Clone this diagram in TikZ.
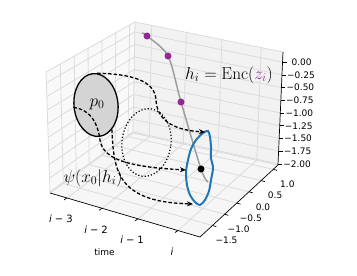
\documentclass[tikz,border=0pt]{standalone}
\usepackage{fontspec}
\newfontfamily\tickfont{DejaVu Sans}
\usetikzlibrary{calc,shapes.geometric,arrows.meta}

\definecolor{paneleft}{gray}{0.975}
\definecolor{paneback}{gray}{0.95}
\definecolor{panefloor}{gray}{0.9625}
\definecolor{gridgray}{gray}{0.86}
\definecolor{curvegray}{gray}{0.62}
\definecolor{loopblue}{HTML}{1F77B4}
\definecolor{zpurple}{RGB}{150,40,150}
\definecolor{p0fill}{gray}{0.83}

\newcommand{\stepname}[1]{\textit{i}\hspace{3pt}−\hspace{3pt}#1}

\tikzstyle{gridline} = [line width=0.8pt, draw=gridgray]
\tikzstyle{axisline} = [line width=0.7pt, draw=black]
\tikzstyle{ticklabel} = [font=\tickfont\fontsize{9}{11}\selectfont, inner sep=0pt]
\tikzstyle{steplabel} = [font=\tickfont\fontsize{10}{12}\selectfont, inner sep=0pt]
\tikzstyle{mathlabel} = [font=\fontsize{17.28}{20}\selectfont, inner sep=0pt]
\tikzstyle{flow} = [line width=1.3pt, dash pattern=on 3.5pt off 2pt, -{Stealth[length=6pt,width=5pt]}]
\tikzstyle{density} = [ellipse, draw=black, line width=1.3pt, fill=p0fill, minimum width=44pt, minimum height=63pt, inner sep=0pt, rotate=6]
\tikzstyle{proposal} = [ellipse, draw=black, line width=1.2pt, dotted, minimum width=49pt, minimum height=68pt, inner sep=0pt, rotate=-7]
\tikzstyle{trajectory} = [line width=1.5pt, draw=curvegray]
\tikzstyle{posterior} = [line width=2pt, draw=loopblue]
\tikzstyle{statedot} = [circle, fill=zpurple, minimum size=7pt, inner sep=0pt]
\tikzstyle{currentdot} = [circle, fill=black, minimum size=7pt, inner sep=0pt]

\begin{document}
\begin{tikzpicture}[x=1pt, y=-1pt]
			\useasboundingbox (0,0) rectangle (357,276);
			
			% corners of the axes box
			\coordinate (A) at (50,193);
			\coordinate (B) at (200,237);
			\coordinate (C) at (278,165);
			\coordinate (D) at (133,133);
			\coordinate (At) at (46,72);
			\coordinate (Dt) at (135,22);
			\coordinate (Ct) at (283,52);
			
			% panes
			\fill[paneleft] (A) -- (D) -- (Dt) -- (At) -- cycle;
			\fill[paneback] (D) -- (C) -- (Ct) -- (Dt) -- cycle;
			\fill[panefloor] (A) -- (B) -- (C) -- (D) -- cycle;
			\draw[gridline] (A) -- (At) -- (Dt) -- (Ct);
			\draw[gridline] (A) -- (D) -- (C);
			\draw[gridline] (D) -- (Dt);
			
			% grid
			\foreach \u in {0.113,0.347,0.587,0.853} {
				\draw[gridline] ($(A)!\u!(B)$) -- ($(D)!\u!(C)$);
				\draw[gridline] ($(D)!\u!(C)$) -- ($(Dt)!\u!(Ct)$);
			}
			\foreach \v in {0.16,0.316,0.472,0.628,0.784,0.94} {
				\draw[gridline] ($(A)!\v!(D)$) -- ($(B)!\v!(C)$);
				\draw[gridline] ($(A)!\v!(D)$) -- ($(At)!\v!(Dt)$);
			}
			\foreach \w in {0.01,0.1225,0.235,0.3475,0.46,0.5725,0.685,0.7975,0.91} {
				\draw[gridline] ($(A)!\w!(At)$) -- ($(D)!\w!(Dt)$);
				\draw[gridline] ($(D)!\w!(Dt)$) -- ($(C)!\w!(Ct)$);
			}
			
			% axes, ticks and tick labels
			\draw[axisline] (A) -- (B) -- (C) -- (Ct);
			\foreach \u/\t in {0.113/\stepname{3}, 0.347/\stepname{2}, 0.587/\stepname{1}, 0.853/\textit{i}} {
				\draw[axisline] ($(A)!\u!(B)$) -- ++(-3,2);
				\node[steplabel] at ($(A)!\u!(B)+(-6,21)$) {\t};
			}
			\foreach \v/\l in {0.16/−1.5, 0.316/−1.0, 0.472/−0.5, 0.628/0.0, 0.784/0.5, 0.94/1.0} {
				\draw[axisline] ($(B)!\v!(C)$) -- ++(3.8,1.1);
				\node[ticklabel] at ($(B)!\v!(C)+(14,15)$) {\l};
			}
			\foreach \w/\l in {0.01/−2.00, 0.1225/−1.75, 0.235/−1.50, 0.3475/−1.25, 0.46/−1.00, 0.5725/−0.75, 0.685/−0.50, 0.7975/−0.25, 0.91/0.00} {
				\draw[axisline] ($(C)!\w!(Ct)$) -- ++(4,0);
				\node[ticklabel] at ($(C)!\w!(Ct)+(19,0)$) {\l};
			}
			\node (timelabel) [ticklabel] at (104.5,252) {time};
			
			% latent trajectory
			\coordinate (sA) at (147,36);
			\coordinate (sB) at (168,56);
			\coordinate (sC) at (181,102);
			\coordinate (sI) at (201,169);
			\draw[trajectory] plot[smooth] coordinates {(142,33) (sA) (sB) (sC) (sI) (208,182)};
			
			% posterior at time i
			\draw[posterior] plot[smooth cycle, tension=0.5] coordinates {(208,131) (210,137) (211,147) (211,158) (213,168) (211,180) (209,191) (205,200) (200,205) (195,202) (190,195) (187,185) (186,172) (188,160) (191,149) (196,140) (203,133)};
			
			% prior and proposal
			\node (qe) [proposal] at (146.5,142.5) {};
			\node (p0e) [density] at (96,105) {};
			\node (p0) [mathlabel] at (97,104) {$p_0$};
			
			% flows
			\coordinate (tipA) at (205,132);
			\coordinate (tipB) at (186,170);
			\coordinate (tipC) at (193,204);
			\draw[flow] (p0e.82) .. controls (130,74) and (155,80) .. (156,100) .. controls (157,118) and (170,130) .. (tipA);
			\draw[flow] (p0e.west) .. controls (92,110) and (98,125) .. (100,140) .. controls (103,160) and (130,167) .. (tipB);
			\draw[flow] (p0e.-63) .. controls (113,155) and (115,172) .. (127,185) .. controls (140,198) and (160,203) .. (tipC);
			
			% states
			\node (zA) [statedot] at (sA) {};
			\node (zB) [statedot] at (sB) {};
			\node (zC) [statedot] at (sC) {};
			\node (hI) [currentdot] at (sI) {};
			
			\node (enc) [mathlabel] at (229,75) {$h_i = \mathrm{Enc}(\textcolor{zpurple}{z_i})$};
			\node (psi) [mathlabel] at (93,178) {$\psi(x_0|h_i)$};
			
		\end{tikzpicture}
\end{document}
